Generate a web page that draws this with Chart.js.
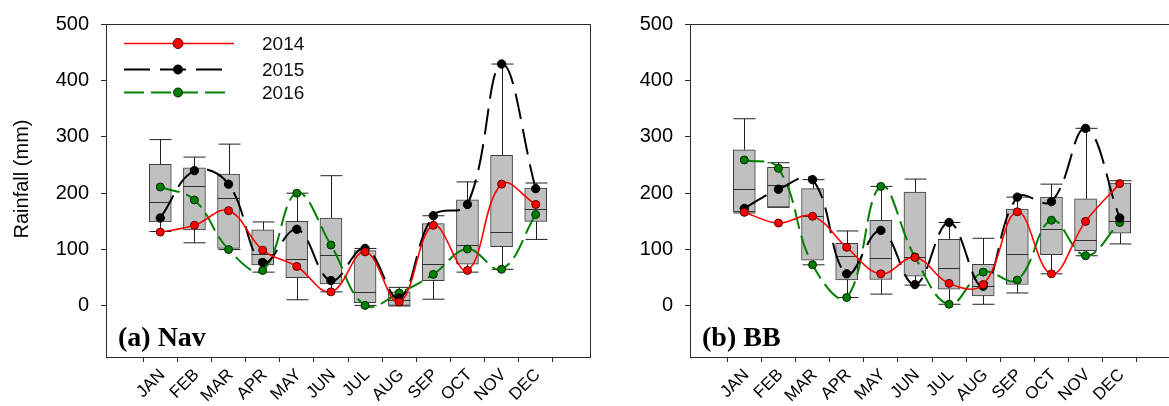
<!DOCTYPE html>
<html>
<head>
<meta charset="utf-8">
<script src="https://cdn.jsdelivr.net/npm/chart.js@4.4.1/dist/chart.umd.min.js"></script>
<style>
  html, body { margin: 0; padding: 0; background: #fff; overflow: hidden; width: 1169px; height: 406px; }
  #wrapNav { position: absolute; left: 0; top: 0; width: 600px; height: 406px; }
  #wrapBB  { position: absolute; left: 600px; top: 0; width: 580px; height: 406px; }
</style>
</head>
<body>
<div id="wrapNav"><canvas id="navChart" width="600" height="406"></canvas></div>
<div id="wrapBB"><canvas id="bbChart" width="580" height="406"></canvas></div>
<script>
// Month categories and y-axis ticks
const months = ['JAN', 'FEB', 'MAR', 'APR', 'MAY', 'JUN', 'JUL', 'AUG', 'SEP', 'OCT', 'NOV', 'DEC'];
const rainTicks = [0, 100, 200, 300, 400, 500];

// (a) Nav — monthly rainfall distribution (mm)
const navMin = [132, 112, 100, 60, 11, 25, 1, 0, 12, 60, 65, 118];
const navQ1  = [149, 135, 102, 73, 50, 39, 6, 1, 45, 74, 105, 150];
const navMed = [184, 213, 191, 93, 83, 90, 24, 11, 74, 108, 132, 172];
const navQ3  = [251, 245, 234, 135, 150, 156, 98, 25, 146, 188, 267, 209];
const navMax = [295, 264, 287, 149, 200, 231, 102, 33, 160, 220, 429, 218];
const nav2014 = [131, 143, 169, 99, 70, 25, 96, 7, 143, 63, 216, 180];
const nav2015 = [156, 240, 216, 77, 136, 45, 102, 14, 160, 180, 429, 208];
const nav2016 = [211, 188, 100, 63, 200, 108, 1, 23, 56, 101, 65, 162];

// (b) BB — monthly rainfall distribution (mm)
const bbMin = [165, 175, 73, 15, 21, 37, 3, 3, 23, 57, 89, 110];
const bbQ1  = [167, 175, 81, 46, 47, 53, 30, 18, 38, 91, 98, 129];
const bbMed = [207, 214, 159, 89, 85, 86, 68, 35, 92, 136, 117, 150];
const bbQ3  = [277, 246, 208, 111, 152, 202, 118, 74, 172, 193, 190, 218];
const bbMax = [332, 254, 224, 133, 212, 225, 148, 120, 193, 216, 315, 222];
const bb2014 = [166, 147, 159, 104, 57, 86, 40, 38, 167, 57, 150, 217];
const bb2015 = [173, 207, 224, 57, 134, 38, 148, 35, 193, 185, 315, 156];
const bb2016 = [259, 244, 73, 15, 212, 87, 3, 60, 46, 152, 89, 148];

const SANS = "'Liberation Sans', Arial, sans-serif";
const SERIF = "'Liberation Serif', 'Times New Roman', serif";

const seriesStyle = {
  '2014': { color: '#ff0000', dash: [], width: 1.6, pointBorder: '#5a0000', radius: 4 },
  '2015': { color: '#000000', dash: [26, 10], width: 2, pointBorder: '#000000', radius: 4.2 },
  '2016': { color: '#008000', dash: [20, 7], width: 2, pointBorder: '#002800', radius: 4 }
};

const toPoints = arr => arr.map((v, i) => ({ x: i, y: v }));

function lineDataset(year, values) {
  const s = seriesStyle[year];
  return {
    type: 'line',
    label: year,
    data: toPoints(values),
    borderColor: s.color,
    borderWidth: s.width,
    borderDash: s.dash,
    backgroundColor: s.color,
    pointBackgroundColor: s.color,
    pointBorderColor: s.pointBorder,
    pointBorderWidth: 1,
    pointRadius: s.radius,
    pointHoverRadius: s.radius,
    tension: 0.4,
    fill: false
  };
}

// Whiskers, caps and medians drawn right after the box dataset, under the year lines
const boxDetails = {
  id: 'boxDetails',
  afterDatasetDraw(chart, args, opts) {
    if (chart.data.datasets[args.index].label !== 'box') return;
    const { ctx, scales: { x, y } } = chart;
    const half = opts.capHalf;
    ctx.save();
    ctx.lineWidth = 1;
    ctx.strokeStyle = '#202020';
    ctx.beginPath();
    opts.min.forEach((lo, i) => {
      const cx = Math.round(x.getPixelForValue(i)) + 0.5;
      const yLo = y.getPixelForValue(lo), yQ1 = y.getPixelForValue(opts.q1[i]);
      const yHi = y.getPixelForValue(opts.max[i]), yQ3 = y.getPixelForValue(opts.q3[i]);
      ctx.moveTo(cx, yQ1); ctx.lineTo(cx, yLo);
      ctx.moveTo(cx - half, yLo); ctx.lineTo(cx + half, yLo);
      ctx.moveTo(cx, yQ3); ctx.lineTo(cx, yHi);
      ctx.moveTo(cx - half, yHi); ctx.lineTo(cx + half, yHi);
    });
    ctx.stroke();
    ctx.strokeStyle = '#303030';
    ctx.beginPath();
    opts.med.forEach((m, i) => {
      const cx = x.getPixelForValue(i);
      const ym = Math.round(y.getPixelForValue(m)) + 0.5;
      ctx.moveTo(cx - half, ym); ctx.lineTo(cx + half, ym);
    });
    ctx.stroke();
    ctx.restore();
  }
};

// Plot frame, panel tag, optional legend and axis title
const decorations = {
  id: 'decorations',
  afterDraw(chart, args, opts) {
    const { ctx, chartArea: a } = chart;
    ctx.save();
    ctx.strokeStyle = '#2a2a2a';
    ctx.lineWidth = 1;
    ctx.strokeRect(Math.round(a.left) + 0.5, Math.round(a.top) + 0.5,
                   Math.round(a.right - a.left), Math.round(a.bottom - a.top));

    ctx.fillStyle = '#000';
    ctx.font = `bold 28px ${SERIF}`;
    ctx.textAlign = 'left';
    ctx.textBaseline = 'alphabetic';
    ctx.fillText(opts.tag, a.left + 12, 346);

    if (opts.yTitle) {
      ctx.save();
      ctx.translate(22, 179);
      ctx.rotate(-Math.PI / 2);
      ctx.font = `20px ${SANS}`;
      ctx.textAlign = 'center';
      ctx.textBaseline = 'middle';
      ctx.fillText(opts.yTitle, 0, 0);
      ctx.restore();
    }

    if (opts.legend) {
      const rows = [['2014', 43.5, 234], ['2015', 69.5, 224], ['2016', 92.5, 232]];
      rows.forEach(([year, ly, xEnd]) => {
        const s = seriesStyle[year];
        ctx.save();
        ctx.strokeStyle = s.color;
        ctx.lineWidth = s.width;
        ctx.setLineDash(s.dash);
        ctx.beginPath();
        ctx.moveTo(124, ly); ctx.lineTo(xEnd, ly);
        ctx.stroke();
        ctx.setLineDash([]);
        ctx.beginPath();
        ctx.arc(178, ly, year === '2014' ? 5 : 4.5, 0, Math.PI * 2);
        ctx.fillStyle = s.color;
        ctx.fill();
        ctx.lineWidth = 1;
        ctx.strokeStyle = s.pointBorder;
        ctx.stroke();
        ctx.fillStyle = '#111';
        ctx.font = `19px ${SANS}`;
        ctx.textAlign = 'left';
        ctx.textBaseline = 'middle';
        ctx.fillText(year, 262, ly + 1);
        ctx.restore();
      });
    }
    ctx.restore();
  }
};

function buildPanel(canvasId, p) {
  return new Chart(document.getElementById(canvasId), {
    data: {
      datasets: [
        lineDataset('2014', p.y2014),
        lineDataset('2015', p.y2015),
        lineDataset('2016', p.y2016),
        {
          type: 'bar',
          label: 'box',
          data: p.q1.map((lo, i) => ({ x: i, y: [lo, p.q3[i]] })),
          backgroundColor: '#c0c0c0',
          borderColor: '#3c3c3c',
          borderWidth: 1,
          borderSkipped: false,
          barThickness: 22
        }
      ]
    },
    options: {
      responsive: false,
      animation: false,
      devicePixelRatio: 1,
      layout: { padding: { top: 21, right: p.padRight, bottom: 0, left: 0 } },
      plugins: {
        legend: { display: false },
        tooltip: { enabled: false },
        boxDetails: { min: p.min, q1: p.q1, med: p.med, q3: p.q3, max: p.max, capHalf: 11 },
        decorations: { tag: p.tag, legend: p.legend, yTitle: p.yTitle }
      },
      scales: {
        x: {
          type: 'linear',
          min: -1,
          max: 12,
          afterBuildTicks: s => { s.ticks = months.map((m, i) => ({ value: i })); },
          afterFit: s => { s.height = 49; },
          ticks: {
            callback: v => months[v],
            autoSkip: false,
            minRotation: 45,
            maxRotation: 45,
            padding: 3,
            labelOffset: 2,
            color: '#000',
            font: { family: SANS, size: 17 }
          },
          grid: { drawOnChartArea: false, drawTicks: true, tickLength: 5, color: '#2a2a2a' },
          border: { display: true, color: '#2a2a2a' }
        },
        y: {
          type: 'linear',
          min: -90.5,
          max: 500,
          afterBuildTicks: s => { s.ticks = rainTicks.map(v => ({ value: v })); },
          afterFit: s => { s.width = p.yWidth; },
          ticks: {
            padding: 12,
            color: '#000',
            font: { family: SANS, size: 20 }
          },
          grid: { drawOnChartArea: false, drawTicks: true, tickLength: 5, color: '#2a2a2a' },
          border: { display: true, color: '#2a2a2a' }
        }
      }
    },
    plugins: [boxDetails, decorations]
  });
}

buildPanel('navChart', {
  min: navMin, q1: navQ1, med: navMed, q3: navQ3, max: navMax,
  y2014: nav2014, y2015: nav2015, y2016: nav2016,
  tag: '(a) Nav', legend: true, yTitle: 'Rainfall (mm)',
  yWidth: 106, padRight: 10
});

buildPanel('bbChart', {
  min: bbMin, q1: bbQ1, med: bbMed, q3: bbQ3, max: bbMax,
  y2014: bb2014, y2015: bb2015, y2016: bb2016,
  tag: '(b) BB', legend: false, yTitle: null,
  yWidth: 90, padRight: 6
});
</script>
</body>
</html>
